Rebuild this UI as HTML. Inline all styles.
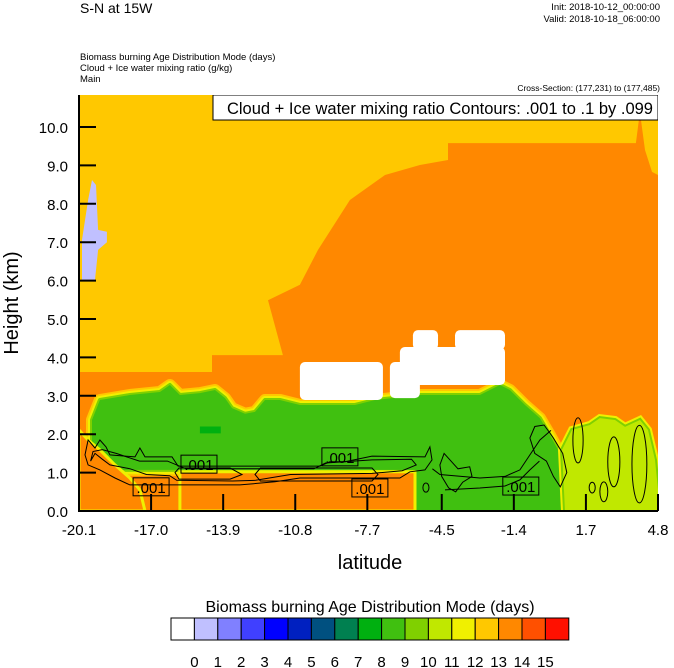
<!DOCTYPE html>
<html><head><meta charset="utf-8"><style>
html,body{margin:0;padding:0;background:#fff;}
svg{display:block;font-family:"Liberation Sans",sans-serif;}
</style></head><body>
<svg id="chart" width="674" height="668" viewBox="0 0 674 668" xmlns="http://www.w3.org/2000/svg">
<defs><clipPath id="plotclip"><rect x="79" y="95" width="579" height="416"/></clipPath></defs>
<text x="80" y="13" font-size="14">S-N at 15W</text>
<text x="660" y="10" font-size="9.5" text-anchor="end">Init: 2018-10-12_00:00:00</text>
<text x="660" y="22" font-size="9.5" text-anchor="end">Valid: 2018-10-18_06:00:00</text>
<text x="80" y="60" font-size="9.5">Biomass burning Age Distribution Mode   (days)</text>
<text x="80" y="71" font-size="9.5">Cloud + Ice water mixing ratio   (g/kg)</text>
<text x="80" y="82" font-size="9.5">Main</text>
<text x="660" y="91" font-size="8.5" text-anchor="end">Cross-Section: (177,231) to (177,485)</text>
<g id="plot" clip-path="url(#plotclip)"></g>
<g id="axes"></g>
<text transform="translate(18,303) rotate(-90)" font-size="20" text-anchor="middle">Height (km)</text>
<text x="370" y="569" font-size="20" text-anchor="middle">latitude</text>
<text x="370" y="612" font-size="16" text-anchor="middle">Biomass burning Age Distribution Mode  (days)</text>
<g id="cbar"></g>
</svg>
<script>
const xTickLabels=["-20.1","-17.0","-13.9","-10.8","-7.7","-4.5","-1.4","1.7","4.8"];
const xTickValues=[-20.1,-17.0,-13.9,-10.8,-7.7,-4.5,-1.4,1.7,4.8];
const yTickValues=[0,1,2,3,4,5,6,7,8,9,10];
const cbarColors=["#ffffff","#c0c0ff","#8080ff","#4040ff","#0000ff","#0020c0","#005080","#008050","#00b010","#40c010","#80d000","#c0e800","#f0f000","#ffc800","#ff8800","#ff5000","#ff1000"];
const cbarLabels=["0","1","2","3","4","5","6","7","8","9","10","11","12","13","14","15"];
const orangeRegion=[[-4.23,9.58],[3.85,9.58],[4.02,10.39],[4.24,9.4],[4.54,8.83],[4.8,8.75],[4.8,0],[-20.1,0],[-20.1,3.62],[-14.38,3.62],[-14.38,4.06],[-11.33,4.06],[-11.97,5.49],[-10.6,5.89],[-9.82,6.8],[-8.45,8.1],[-6.94,8.75],[-5.44,9.01],[-4.23,9.14]];
const greenRegion=[[-19.54,1.07],[-19.54,2.37],[-19.2,2.89],[-17.91,3.02],[-16.62,3.1],[-16.19,3.28],[-15.76,3.02],[-14.9,3.07],[-14.25,3.15],[-13.82,2.94],[-13.52,2.68],[-12.96,2.53],[-12.53,2.58],[-12.1,2.89],[-11.46,2.89],[-10.6,2.76],[-8.23,2.76],[-7.37,2.89],[-5.44,3.02],[-2.86,3.02],[-2.0,3.28],[-1.57,3.15],[-0.92,2.76],[-0.28,2.42],[0.15,1.98],[0.5,1.59],[0.8,0.55],[0.8,0],[-5.65,0],[-5.65,1.07]];
const lowerLeftOrange=[[-20.1,0],[-20.1,2.11],[-19.71,1.85],[-19.2,1.59],[-18.55,1.2],[-17.91,0.86],[-17.48,0.55],[-17.26,0]];
const lowerMidOrange=[[-15.76,0],[-15.76,1.02],[-5.65,1.02],[-5.65,0]];
const limeRegion=[[0.8,0],[0.67,1.59],[1.1,2.11],[1.87,2.24],[2.3,2.42],[2.95,2.37],[3.38,2.19],[4.02,2.37],[4.37,2.11],[4.67,1.33],[4.8,0.55],[4.8,0]];
const lavenderRegion=[[-19.97,6.02],[-19.97,7.06],[-19.71,8.1],[-19.54,8.62],[-19.37,8.49],[-19.28,7.32],[-18.9,7.27],[-18.9,7.0],[-19.28,6.8],[-19.41,6.02]];
const darkGreenPatch=[[-14.9,2.2],[-14.0,2.2],[-14.0,2.02],[-14.9,2.02]];
const whiteBlobs=[[-10.6,-7.03,2.89,3.88],[-6.73,-5.44,2.94,3.88],[-6.3,-1.78,3.28,4.27],[-5.74,-4.66,4.2,4.71],[-3.93,-1.78,4.2,4.71]];
const contourLoops=[
[[-19.84,1.46],[-19.71,1.85],[-19.41,1.64],[-19.2,1.85],[-18.94,1.67],[-18.77,1.46],[-17.69,1.41],[-17.48,1.64],[-17.26,1.41],[-16.1,1.41],[-15.84,1.17],[-9.74,1.17],[-9.31,1.28],[-8.66,1.28],[-7.5,1.43],[-5.22,1.41],[-5.01,1.67],[-4.92,1.33],[-5.22,1.07],[-5.87,1.02],[-6.3,0.86],[-8.45,0.86],[-10.6,0.86],[-11.67,0.76],[-13.18,0.68],[-16.1,0.68],[-17.91,0.68],[-18.55,0.86],[-19.2,1.07],[-19.71,1.2]],
[[-19.6,1.3],[-19.41,1.5],[-19.1,1.35],[-18.77,1.2],[-17.9,1.1],[-17.2,0.95],[-16.2,0.92],[-15.9,0.8],[-13.5,0.78],[-12.5,0.8],[-11.0,0.95],[-7.5,0.98],[-6.2,1.05],[-5.6,1.2],[-5.8,1.35],[-7.5,1.33],[-9.5,1.25],[-10,1.1],[-15.5,1.1],[-16.3,1.3],[-17.5,1.3],[-18.5,1.5],[-19.1,1.6],[-19.5,1.55]],
[[-15.97,1.0],[-15.8,1.12],[-13.6,1.12],[-13.09,0.95],[-13.6,0.83],[-15.8,0.83]],
[[-12.53,0.95],[-12.3,1.12],[-7.5,1.12],[-7.24,0.95],[-7.5,0.78],[-12.3,0.78]],
[[-4.58,1.2],[-4.4,1.5],[-4.1,1.3],[-3.8,1.1],[-3.3,1.15],[-3.2,0.9],[-3.6,0.75],[-3.9,0.5],[-4.2,0.6],[-4.5,0.9]],
[[-0.71,1.9],[-0.5,2.2],[-0.1,2.24],[0.3,1.9],[0.7,1.5],[0.88,1.0],[0.6,0.63],[0.3,0.9],[0.0,1.3],[-0.5,1.5]]];
const contourLines=[
[[-4.9,1.1],[-4.58,0.95],[-2.86,0.86],[-1.78,0.9],[-1.14,1.07],[-0.71,1.46],[-0.28,1.85],[0.2,2.1]],
[[-4.36,0.55],[-2.86,0.6],[-1.78,0.65],[-1.14,0.81],[-0.71,1.07],[-0.3,1.3]]];
const contourEllipses=[[1.36,1.84,0.22,0.59],[2.9,1.28,0.26,0.65],[4.0,1.22,0.32,1.01],[1.97,0.61,0.13,0.14],[2.47,0.5,0.17,0.26],[-5.18,0.61,0.13,0.12]];
const contourLabelPos=[[-14.94,1.22],[-17.0,0.63],[-8.88,1.41],[-7.59,0.6],[-1.1,0.65]];
const contourLabelText=[".001",".001",".001",".001",".001"];

const X0=79,X1=658,Y0=511,Y1=127;
const xs=v=>X0+(v+20.1)/24.9*(X1-X0);
const ys=v=>Y0-v/10*(Y0-Y1);
const NS="http://www.w3.org/2000/svg";
function mk(tag,attrs,parent){const e=document.createElementNS(NS,tag);for(const k in attrs)e.setAttribute(k,attrs[k]);parent.appendChild(e);return e;}
const pts=a=>a.map(p=>xs(p[0]).toFixed(1)+","+ys(p[1]).toFixed(1)).join(" ");
const plot=document.getElementById("plot");
let e;
e=mk("rect",{x:X0,y:95,width:X1-X0,height:Y0-95,fill:"#ffc800"},plot);


e=mk("polygon",{points:pts(orangeRegion),fill:"#ff8800"},plot);


e=mk("polygon",{points:pts(lavenderRegion),fill:"#c0c0ff"},plot);


[["#ffc800",12],["#f0f000",8],["#80d000",4]].forEach(s=>{
 e=mk("polygon",{points:pts(greenRegion),fill:s[0],stroke:s[0],"stroke-width":s[1],"stroke-linejoin":"round"},plot);
 
 
});
e=mk("polygon",{points:pts(greenRegion),fill:"#40c010"},plot);


e=mk("polygon",{points:pts(darkGreenPatch),fill:"#00b010"},plot);


[lowerLeftOrange,lowerMidOrange].forEach(r=>{
 e=mk("polygon",{points:pts(r),fill:"#ff8800",stroke:"#f0f000","stroke-width":3},plot);
 
 
});
[["#f0f000",8],["#80d000",4]].forEach(s=>{
 e=mk("polygon",{points:pts(limeRegion),fill:s[0],stroke:s[0],"stroke-width":s[1]},plot);
 
 
});
e=mk("polygon",{points:pts(limeRegion),fill:"#c0e800"},plot);


whiteBlobs.forEach(b=>{
 e=mk("rect",{x:xs(b[0]),y:ys(b[3]),width:xs(b[1])-xs(b[0]),height:ys(b[2])-ys(b[3]),rx:5,fill:"#ffffff"},plot);
 
 
});
contourLoops.forEach(c=>{
 e=mk("polygon",{points:pts(c),fill:"none",stroke:"#000","stroke-width":1},plot);
 
 
});
contourLines.forEach(c=>{
 e=mk("polyline",{points:pts(c),fill:"none",stroke:"#000","stroke-width":1},plot);
 
 
});
contourEllipses.forEach(c=>{
 e=mk("ellipse",{cx:xs(c[0]),cy:ys(c[1]),rx:xs(c[0]+c[2])-xs(c[0]),ry:ys(0)-ys(c[3]),fill:"none",stroke:"#000","stroke-width":1},plot);
 
 
});
contourLabelPos.forEach((p,i)=>{
 const cx=xs(p[0]),cy=ys(p[1]);
 e=mk("rect",{x:cx-18,y:cy-9,width:36,height:18,fill:"none",stroke:"#000","stroke-width":1},plot);
 
 
 e=mk("text",{x:cx,y:cy+6,"font-size":15,"text-anchor":"middle"},plot);
 e.textContent=contourLabelText[i];
 
 
});
e=mk("rect",{x:213,y:95,width:445,height:25,fill:"#fff",stroke:"#000","stroke-width":1},plot);


e=mk("text",{x:653,y:114,"font-size":16.5,"text-anchor":"end"},plot);
e.textContent="Cloud + Ice water mixing ratio Contours: .001 to .1 by .099";



const axes=document.getElementById("axes");
e=mk("line",{x1:X0,y1:95,x2:X0,y2:Y0+1,stroke:"#000","stroke-width":2},axes);


e=mk("line",{x1:X0-1,y1:Y0,x2:X1,y2:Y0,stroke:"#000","stroke-width":2},axes);


xTickValues.forEach((v,i)=>{
 e=mk("line",{x1:xs(v),y1:Y0,x2:xs(v),y2:Y0-17,stroke:"#000","stroke-width":2},axes);
 
 
 e=mk("text",{x:xs(v),y:535,"font-size":15,"text-anchor":"middle"},axes);
 e.textContent=xTickLabels[i];
 
 
});
yTickValues.forEach(v=>{
 e=mk("line",{x1:X0,y1:ys(v),x2:X0+17,y2:ys(v),stroke:"#000","stroke-width":2},axes);
 
 
 e=mk("text",{x:68,y:ys(v)+6,"font-size":15,"text-anchor":"end"},axes);
 e.textContent=v.toFixed(1);
 
 
});
const cbar=document.getElementById("cbar");
const cx0=171,cw=23.4,cy0=618,ch=22;
cbarColors.forEach((c,i)=>{
 e=mk("rect",{x:cx0+i*cw,y:cy0,width:cw,height:ch,fill:c,stroke:"#000","stroke-width":1},cbar);
 
 
});
cbarLabels.forEach((l,i)=>{
 e=mk("text",{x:cx0+(i+1)*cw,y:667,"font-size":15,"text-anchor":"middle"},cbar);
 e.textContent=l;
 
 
});
</script>
</body></html>
